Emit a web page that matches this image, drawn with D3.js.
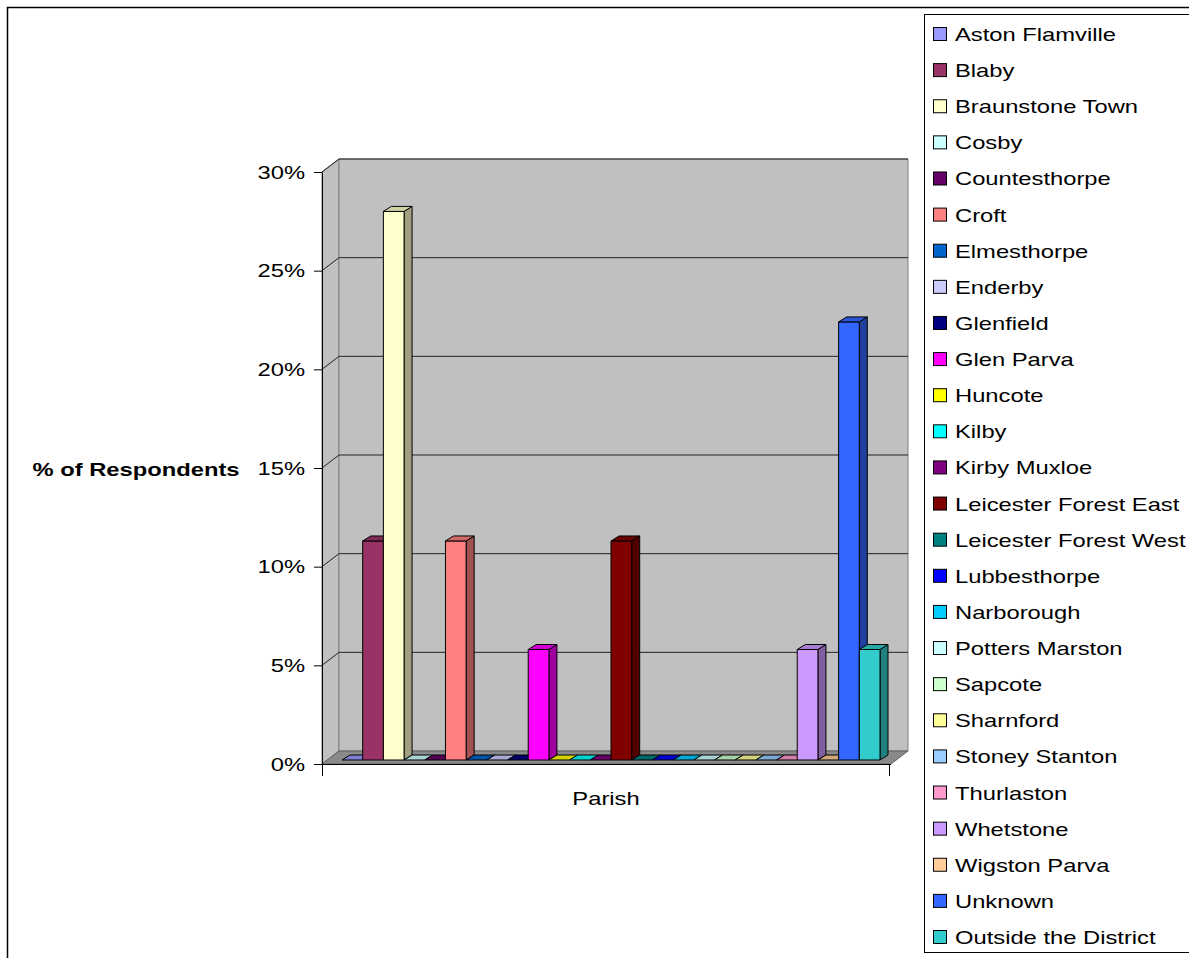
<!DOCTYPE html>
<html>
<head>
<meta charset="utf-8">
<script src="https://cdn.jsdelivr.net/npm/d3@7.9.0/dist/d3.min.js"></script>
<style>
  body { margin: 0; background: #fff; }
  svg { display: block; font-family: "Liberation Sans", Arial, sans-serif; }
</style>
</head>
<body>
<svg id="chart" width="1189" height="958"></svg>
<script>
// parishes (one series each) and their share of respondents, in %
const parishes = ['Aston Flamville', 'Blaby', 'Braunstone Town', 'Cosby', 'Countesthorpe', 'Croft',
  'Elmesthorpe', 'Enderby', 'Glenfield', 'Glen Parva', 'Huncote', 'Kilby', 'Kirby Muxloe',
  'Leicester Forest East', 'Leicester Forest West', 'Lubbesthorpe', 'Narborough', 'Potters Marston',
  'Sapcote', 'Sharnford', 'Stoney Stanton', 'Thurlaston', 'Whetstone', 'Wigston Parva', 'Unknown',
  'Outside the District'];
const percents = [0, 11.1, 27.8, 0, 0, 11.1, 0, 0, 0, 5.6, 0, 0, 0, 11.1, 0, 0, 0, 0, 0, 0, 0, 0, 5.6, 0, 22.2, 5.6];
const colors = ['#9999FF', '#993366', '#FFFFCC', '#CCFFFF', '#660066', '#FF8080', '#0066CC', '#CCCCFF',
  '#000080', '#FF00FF', '#FFFF00', '#00FFFF', '#800080', '#800000', '#008080', '#0000FF', '#00CCFF',
  '#CCFFFF', '#CCFFCC', '#FFFF99', '#99CCFF', '#FF99CC', '#CC99FF', '#FFCC99', '#3366FF', '#33CCCC'];
const yTicks = [0, 5, 10, 15, 20, 25, 30];

const svg = d3.select('#chart');
// the original text is a bit wider than Arial
const stretch = 1.25;

// outer chart border
svg.append('rect').attr('x', 7.5).attr('y', 7.5).attr('width', 1300).attr('height', 1000)
  .attr('fill', 'none').attr('stroke', '#000').attr('stroke-width', 1.5);

// front plane scales
const y = d3.scaleLinear().domain([0, 30]).range([764, 172]);
const x0 = 322, x1 = 891;
// wall depth offset
const wdx = 17, wdy = -13;
// bars sit a little behind the front edge, and have their own depth
const bdx = 5, bdy = -4;
const ddx = 8, ddy = -5;
const xb = d3.scaleBand().domain(parishes).range([337, 875]).padding(0);

// walls
const walls = svg.append('g');
walls.append('polygon') // side wall
  .attr('points', [[x0, y(30)], [x0 + wdx, y(30) + wdy], [x0 + wdx, y(0) + wdy], [x0, y(0)]].join(' '))
  .attr('fill', '#C0C0C0').attr('stroke', '#808080');
walls.append('polygon') // back wall
  .attr('points', [[x0 + wdx, y(30) + wdy], [x1 + wdx, y(30) + wdy], [x1 + wdx, y(0) + wdy], [x0 + wdx, y(0) + wdy]].join(' '))
  .attr('fill', '#C0C0C0').attr('stroke', '#808080');
walls.append('polygon') // floor
  .attr('points', [[x0, y(0)], [x0 + wdx, y(0) + wdy], [x1 + wdx, y(0) + wdy], [x1, y(0)]].join(' '))
  .attr('fill', '#8a8a8a').attr('stroke', '#606060');

// gridlines on the side and back wall
const grid = svg.append('g').attr('stroke', '#222').attr('stroke-width', 1);
yTicks.filter(d => d > 0).forEach(d => {
  grid.append('line').attr('x1', x0).attr('y1', y(d)).attr('x2', x0 + wdx).attr('y2', y(d) + wdy);
  grid.append('line').attr('x1', x0 + wdx).attr('y1', y(d) + wdy).attr('x2', x1 + wdx).attr('y2', y(d) + wdy);
});

// bars, left to right so later front faces cover earlier side faces
const bars = svg.append('g').attr('stroke', '#000').attr('stroke-width', 1).attr('stroke-linejoin', 'round');
parishes.forEach((p, i) => {
  const c = d3.color(colors[i]);
  const left = xb(p) + bdx, right = xb(p) + xb.bandwidth() + bdx;
  const base = y(0) + bdy, top = y(percents[i]) + bdy;
  const g = bars.append('g');
  if (percents[i] > 0) {
    g.append('polygon') // side
      .attr('points', [[right, top], [right + ddx, top + ddy], [right + ddx, base + ddy], [right, base]].join(' '))
      .attr('fill', c.darker(1.3));
    g.append('rect') // front
      .attr('x', left).attr('y', top).attr('width', right - left).attr('height', base - top)
      .attr('fill', c);
  }
  g.append('polygon') // top
    .attr('points', [[left, top], [right, top], [right + ddx, top + ddy], [left + ddx, top + ddy]].join(' '))
    .attr('fill', c.darker(0.55));
});

// y axis
svg.append('g')
  .attr('transform', `translate(${x0},0)`)
  .call(d3.axisLeft(y).tickValues(yTicks).tickFormat(d => d + '%').tickSize(8).tickSizeOuter(0))
  .call(g => g.selectAll('text').attr('font-size', 19).attr('fill', '#000')
    .attr('x', -17 / stretch).attr('transform', `scale(${stretch},1)`)
    .attr('font-family', '"Liberation Sans", Arial, sans-serif'))
  .call(g => g.selectAll('line, path').attr('stroke', '#000'));

// x axis along the front edge of the floor
const xa = d3.scaleLinear().domain([0, 1]).range([x0, 889]);
svg.append('g')
  .attr('transform', `translate(0,${y(0)})`)
  .call(d3.axisBottom(xa).tickValues([0, 1]).tickFormat('').tickSize(12).tickSizeOuter(0))
  .call(g => g.select('.domain').attr('d', `M${x0},0.5H${x1}`))
  .call(g => g.selectAll('line, path').attr('stroke', '#000'));

// axis titles
svg.append('text').attr('transform', `translate(136,476) scale(${stretch},1)`).attr('text-anchor', 'middle')
  .attr('font-size', 19).attr('font-weight', 'bold').text('% of Respondents');
svg.append('text').attr('transform', `translate(606,805) scale(${stretch},1)`).attr('text-anchor', 'middle')
  .attr('font-size', 19).text('Parish');

// legend
svg.append('rect').attr('x', 924.5).attr('y', 14.5).attr('width', 300).attr('height', 938)
  .attr('fill', '#fff').attr('stroke', '#000');
const ly = d3.scaleLinear().domain([0, parishes.length - 1]).range([34, 937]);
const legend = svg.append('g');
parishes.forEach((p, i) => {
  const row = legend.append('g').attr('transform', `translate(0,${ly(i)})`);
  row.append('rect').attr('x', 933.5).attr('y', -6.5).attr('width', 13).attr('height', 13)
    .attr('fill', colors[i]).attr('stroke', '#000');
  row.append('text').attr('transform', `translate(955,7) scale(${stretch},1)`)
    .attr('font-size', 19).text(p);
});
</script>
</body>
</html>
